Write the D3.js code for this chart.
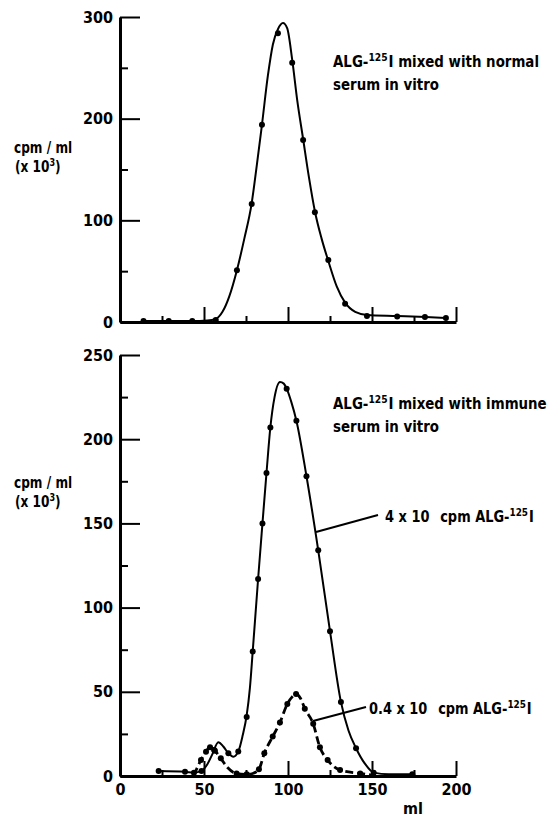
<!DOCTYPE html>
<html>
<head>
<meta charset="utf-8">
<script src="https://cdn.jsdelivr.net/npm/d3@7"></script>
<style>
  body { margin: 0; background: #fff; }
  svg text { font-family: "DejaVu Sans Condensed", "Liberation Sans", sans-serif; font-weight: bold; fill: #000; }
</style>
</head>
<body>
<div id="chart"></div>
<script>
// Elution profiles, ALG-125I mixed with normal / immune serum
const xTicks = [0, 50, 100, 150, 200];
const topYTicks = [0, 100, 200, 300];
const botYTicks = [0, 50, 100, 150, 200, 250];

// top panel: measured points (ml, cpm/ml x10^3) and the drawn curve
const topDots = [[14, 1], [29, 1], [43, 1], [57, 2], [69.6, 51], [78.4, 116], [84.5, 194], [94, 284],
  [102.5, 255], [109, 179], [116, 108], [124, 61], [134, 18], [147, 6], [165, 5.5], [181.5, 5], [194, 4]];
const topCurve = [[14, 1], [29, 1], [43, 1], [52, 1.5], [57, 3], [61, 10], [65, 25], [69.6, 51], [74, 82],
  [78.4, 117], [81.5, 155], [84.5, 194], [88, 242], [91, 273], [94, 288], [97, 294], [99.5, 289], [102.5, 258],
  [105.5, 218], [109, 180], [112.5, 142], [116, 109], [120, 82], [124, 60], [129, 35], [134, 19], [140, 10],
  [147, 7], [165, 6], [182, 5], [194, 4]];

// bottom panel: 4 x 10 cpm (solid)
const hiDots = [[23, 3], [38.7, 2.5], [44, 2], [48.5, 3], [56, 15.5], [64.5, 13.5], [70.4, 14.5], [75.4, 35],
  [79, 74], [82.2, 117], [84.8, 150], [87.2, 180], [89.5, 207], [99.2, 230], [105, 211], [111, 178], [118, 134],
  [125, 86], [131.5, 44], [140.5, 16.5], [151, 2], [174, 1]];
const hiCurve = [[23, 3], [38.7, 2.5], [44, 2], [48.5, 3], [52, 7], [55, 13], [58.5, 20], [61.5, 17.5],
  [64.5, 13.5], [67.5, 11.5], [70.4, 14.5], [73, 24], [75.4, 36], [77.3, 52], [79, 74], [82.2, 117], [84.8, 150],
  [87.2, 180], [89.5, 207], [92, 225], [95.2, 234], [97.5, 233], [99.2, 230], [102, 222], [105, 211], [111, 178],
  [118, 134], [125, 86], [131.5, 44], [136, 27], [140.5, 16.5], [146, 7], [151, 2], [160, 1], [174, 1]];

// bottom panel: 0.4 x 10 cpm (dashed)
const loDots = [[48.2, 9.5], [51.2, 14.4], [53.6, 17], [56.5, 15], [60, 10.5], [69.4, 1.5], [75.4, 1],
  [82.7, 4], [85.9, 13.5], [90.9, 23.4], [95.2, 31.7], [99.6, 42.8], [104.8, 48.7], [110, 40], [115, 31],
  [119, 17], [123.6, 9.5], [131, 3.5], [143, 1.5]];
const loCurve = [[44, 0.5], [48.2, 9.5], [51.2, 14.4], [53.6, 17.4], [56.5, 15], [60, 10.5], [64, 5],
  [69.4, 1.5], [75.4, 1], [79, 1.5], [82.7, 4], [85.9, 13.5], [90.9, 23.4], [95.2, 31.7], [99.6, 42.8],
  [102.5, 47], [104.8, 48.7], [107.5, 46], [110, 40], [115, 31], [119, 17], [123.6, 9.5], [131, 3.5],
  [143, 1.5], [150, 0.5]];

const width = 560, height = 819;
const svg = d3.select('#chart').append('svg')
  .attr('width', width)
  .attr('height', height);

const x = d3.scaleLinear().domain([0, 200]).range([120, 456]);
const yTop = d3.scaleLinear().domain([0, 300]).range([322, 17]);
const yBot = d3.scaleLinear().domain([0, 250]).range([776, 355]);

function drawPanel(y, yMax, major, minor, yTicks, showXLabels) {
  const g = svg.append('g');
  // y axis: minor + major ticks pointing inward
  g.append('g')
    .attr('transform', `translate(${x(0)},0)`)
    .call(d3.axisLeft(y).tickValues(d3.range(minor, yMax, major)).tickSize(-8).tickFormat(''))
    .call(a => a.select('.domain').remove());
  g.append('g')
    .attr('transform', `translate(${x(0)},0)`)
    .call(d3.axisLeft(y).tickValues(yTicks).tickSize(-20).tickSizeOuter(0).tickPadding(7))
    .call(a => a.select('.domain').attr('stroke-width', 3));
  // x axis: ticks pointing up
  g.append('g')
    .attr('transform', `translate(0,${y(0)})`)
    .call(d3.axisBottom(x).tickValues([25, 75, 125, 175]).tickSize(-6).tickFormat(''))
    .call(a => a.select('.domain').remove());
  g.append('g')
    .attr('transform', `translate(0,${y(0)})`)
    .call(d3.axisBottom(x).tickValues(xTicks).tickSize(-15).tickSizeOuter(0).tickPadding(8)
      .tickFormat(showXLabels ? d3.format('d') : ''))
    .call(a => a.select('.domain').attr('stroke-width', 3));
  g.selectAll('.tick line').attr('stroke-width', 2);
  g.selectAll('.tick text').attr('font-size', 16)
    .style('font-family', '"DejaVu Sans Condensed", sans-serif');
  return g;
}

function drawSeries(y, curve, dots, dashed) {
  const line = d3.line()
    .x(d => x(d[0]))
    .y(d => y(d[1]))
    .curve(d3.curveMonotoneX);
  svg.append('path')
    .datum(curve)
    .attr('d', line)
    .attr('fill', 'none')
    .attr('stroke', '#000')
    .attr('stroke-width', dashed ? 2.8 : 2)
    .attr('stroke-dasharray', dashed ? '8,4' : null);
  svg.append('g')
    .selectAll('circle')
    .data(dots)
    .join('circle')
    .attr('cx', d => x(d[0]))
    .attr('cy', d => y(d[1]))
    .attr('r', 3)
    .attr('fill', '#000');
}

drawPanel(yTop, 300, 100, 50, topYTicks, false);
drawPanel(yBot, 250, 50, 25, botYTicks, true);
drawSeries(yTop, topCurve, topDots, false);
drawSeries(yBot, hiCurve, hiDots, false);
drawSeries(yBot, loCurve, loDots, true);

// condensed text: squeeze horizontally to match the narrow typeface
function stext(x0, y0, size, sx) {
  return svg.append('text')
    .attr('transform', `translate(${x0},${y0}) scale(${sx},1)`)
    .attr('font-size', size);
}

function alg(t, before, after, gap) {
  t.append('tspan').text(before);
  t.append('tspan').attr('font-size', 11).attr('dy', -6).text('125');
  t.append('tspan').attr('dy', 6).attr('dx', gap || 0).text(after);
}

function yLabel(top) {
  stext(14, top, 15, 0.9).text('cpm / ml');
  const t2 = stext(15, top + 19, 15, 0.9);
  t2.append('tspan').text('(x 10');
  t2.append('tspan').attr('font-size', 10).attr('dy', -6).text('3');
  t2.append('tspan').attr('dy', 6).text(')');
}
yLabel(153);
yLabel(488);

function title(y0, word) {
  alg(stext(333, y0, 16, 0.93), 'ALG-', 'I mixed with ' + word, 1);
  stext(333, y0 + 23, 16, 0.93).text('serum in vitro');
}
title(67, 'normal');
title(409, 'immune');

// series labels with leader lines
svg.append('line').attr('x1', 316).attr('y1', 532).attr('x2', 378).attr('y2', 515)
  .attr('stroke', '#000').attr('stroke-width', 2);
const l1 = stext(385, 522, 16, 0.9);
l1.append('tspan').text('4 x 10');
alg(l1.append('tspan').attr('dx', 12), 'cpm ALG-', 'I', 1);

svg.append('line').attr('x1', 313).attr('y1', 721).attr('x2', 366).attr('y2', 707)
  .attr('stroke', '#000').attr('stroke-width', 2);
const l2 = stext(369, 714, 16, 0.9);
l2.append('tspan').text('0.4 x 10');
alg(l2.append('tspan').attr('dx', 12), 'cpm ALG-', 'I', 1);

svg.append('text').attr('font-size', 16).attr('x', 413).attr('y', 814)
  .attr('text-anchor', 'middle').text('ml');
</script>
</body>
</html>
